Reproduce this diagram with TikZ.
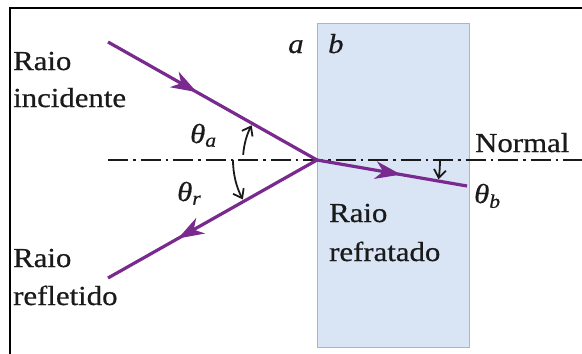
\documentclass[tikz,border=0pt]{standalone}
\usepackage{fontspec}
\setmainfont{Liberation Serif}[FakeStretch=1.12,FakeBold=0.6]
\usetikzlibrary{arrows.meta,decorations.markings,calc}
\definecolor{raycol}{HTML}{7A2A8E}
\definecolor{glass}{HTML}{D9E5F5}
\definecolor{glassedge}{HTML}{A8B6C6}
\definecolor{ink}{HTML}{1A1A1A}
\begin{document}
\begin{tikzpicture}[x=1pt,y=-1pt,
  lbl/.style={inner sep=0, text=ink, font=\fontsize{27.5}{37}\selectfont, anchor=base west},
  raystyle/.style={draw=raycol, line width=3.2pt},
  midarrow/.style={postaction={decorate}, decoration={markings, mark=at position #1 with {\fill[raycol] (6pt,0pt) -- (-20pt,9pt) -- (-12pt,0pt) -- (-20pt,-9pt) -- cycle;}}},
  anglearc/.style={ink, line width=1.8pt, -{Straight Barb[length=8pt,width=12pt]}},
  normalline/.style={ink, line width=1.6pt, dash pattern=on 20pt off 5pt on 2.5pt off 5pt}
]
\useasboundingbox (0,0) rectangle (582,354);
% frame
\draw[line width=2.2pt] (10,354) -- (10,8) -- (582,8);
% glass block
\node[draw=glassedge, fill=glass, line width=1.2pt, minimum width=152pt, minimum height=324pt, inner sep=0, anchor=north west] (glassbox) at (317,23) {};
% points
\coordinate (O) at (317,160);
\coordinate (I) at (108,42);
\coordinate (R) at (108,278);
\coordinate (T) at (467,186);
\coordinate (NL) at (108,160);
\coordinate (NR) at (582,160);
% normal
\draw[normalline] (NL) -- (NR);
% rays
\draw[raystyle, midarrow=0.40] (I) -- (O);
\draw[raystyle, midarrow=0.64] (O) -- (R);
\draw[raystyle, midarrow=0.52] (O) -- (T);
% angle arcs
\draw[anglearc] ($(O)+(184:74)$) arc[start angle=184, end angle=208, radius=74];
\draw[anglearc] ($(O)+(180:84)$) arc[start angle=180, end angle=152, radius=84];
\draw[anglearc] ($(O)+(0:123)$) arc[start angle=0, end angle=9, radius=123];
% labels
\node[lbl] (inc1) at (13,70) {Raio};
\node[lbl] (inc2) at (13,107) {incidente};
\node[lbl] (ref1) at (13,267) {Raio};
\node[lbl] (ref2) at (13,305) {refletido};
\node[lbl] (fr1) at (329,222) {Raio};
\node[lbl] (fr2) at (329,261) {refratado};
\node[lbl] (nrm) at (475,152) {Normal};
\node[lbl] (la) at (288,53) {\textit{a}};
\node[lbl] (lb) at (328,53) {\textit{b}};
\node[lbl] (ta) at (190,143) {\textit{θ}\textsubscript{\textit{a}}};
\node[lbl] (tr) at (177,201) {\textit{θ}\textsubscript{\textit{r}}};
\node[lbl] (tb) at (474,203) {\textit{θ}\textsubscript{\textit{b}}};
\end{tikzpicture}
\end{document}
